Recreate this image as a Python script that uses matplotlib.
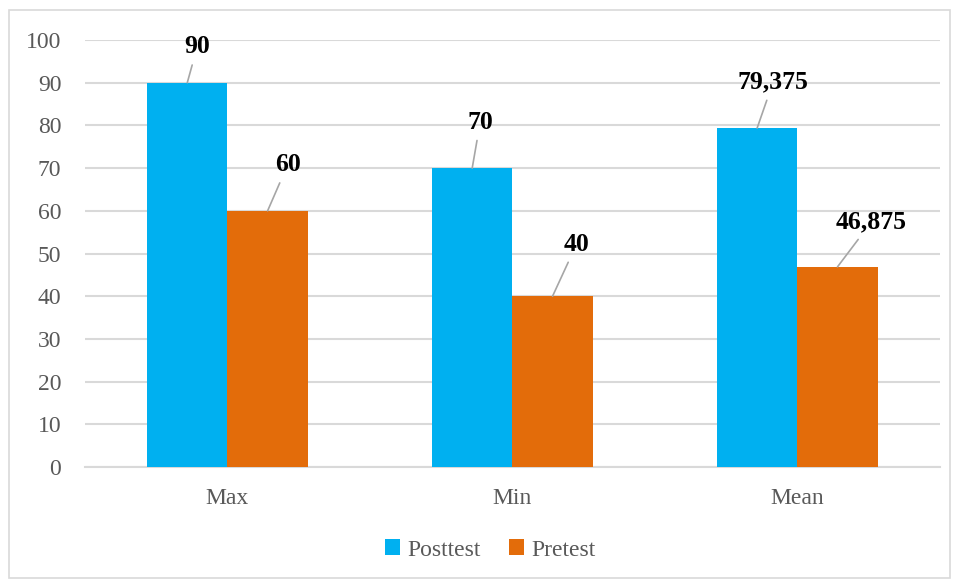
import matplotlib.pyplot as plt
import matplotlib.patches as mpatches
import numpy as np

categories = ["Max", "Min", "Mean"]
posttest = [90, 70, 79.375]
pretest = [60, 40, 46.875]
post_labels = ["90", "70", "79,375"]
pre_labels = ["60", "40", "46,875"]

# label offsets (pixels) from the top centre of each bar
post_offsets = [(10, 36), (8, 46), (16, 46)]
pre_offsets = [(20, 46), (24, 52), (34, 45)]

blue = "#00B0F0"
orange = "#E36C0A"
grid_col = "#d9d9d9"
text_col = "#595959"

plt.rcParams["font.family"] = ["Liberation Serif", "DejaVu Serif"]

fig = plt.figure(figsize=(9.57, 5.79), dpi=100)
ax = fig.add_axes([0.0888, 0.1934, 0.8932, 0.7375])

x = np.arange(len(categories))
w = 0.282
b1 = ax.bar(x - w / 2, posttest, w, color=blue, label="Posttest", zorder=3)
b2 = ax.bar(x + w / 2, pretest, w, color=orange, label="Pretest", zorder=3)

def add_labels(bars, labels, offsets):
    for bar, lab, off in zip(bars, labels, offsets):
        cx = bar.get_x() + bar.get_width() / 2
        top = bar.get_height()
        ax.annotate(lab, xy=(cx, top), xytext=off, textcoords="offset pixels",
                    ha="center", va="center", fontsize=18.5, fontweight="bold",
                    color="black", zorder=5,
                    arrowprops=dict(arrowstyle="-", color="#a6a6a6", lw=1.2,
                                    shrinkA=3, shrinkB=0))

add_labels(b1, post_labels, post_offsets)
add_labels(b2, pre_labels, pre_offsets)

ax.set_xlim(-0.5, 2.5)
ax.set_ylim(0, 100)
ax.set_yticks(np.arange(0, 101, 10))
ax.set_xticks(x)
ax.set_xticklabels(categories)
ax.yaxis.grid(True, color=grid_col, lw=1.5, zorder=0)
ax.set_axisbelow(True)
for s in ["top", "right", "left"]:
    ax.spines[s].set_visible(False)
ax.spines["bottom"].set_color(grid_col)
ax.spines["bottom"].set_linewidth(1.5)
ax.tick_params(axis="both", length=0, labelsize=17, colors=text_col)
ax.tick_params(axis="y", pad=17)
ax.tick_params(axis="x", pad=15)

leg = fig.legend(handles=[b1, b2], loc="center", bbox_to_anchor=(0.512, 0.05),
                 ncol=2, frameon=False, fontsize=17, handlelength=0.65,
                 handleheight=0.65, handletextpad=0.3, columnspacing=1.2)
for t in leg.get_texts():
    t.set_color(text_col)

fig.patches.append(mpatches.Rectangle((9 / 957, 1 / 579), 941 / 957, 568 / 579,
                                      transform=fig.transFigure, fill=False,
                                      edgecolor=grid_col, lw=1.2))

fig.savefig("out.png", dpi=100)
